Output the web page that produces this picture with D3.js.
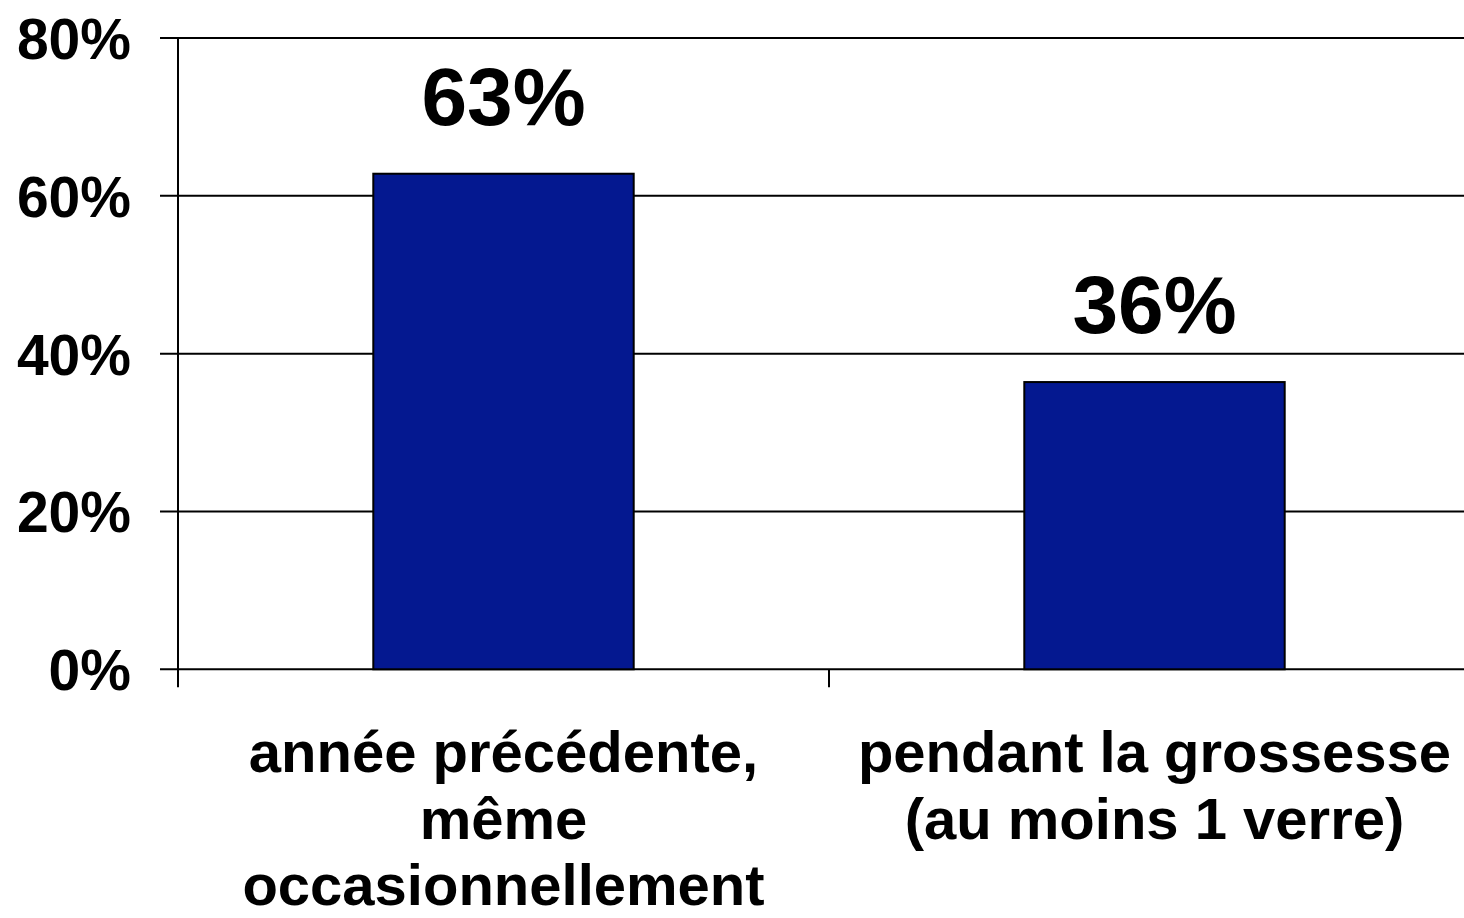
<!DOCTYPE html>
<html>
<head>
<meta charset="utf-8">
<script src="https://cdn.jsdelivr.net/npm/d3@7"></script>
<style>
    body { margin: 0; background: #fff; }
    svg text { font-family: "Liberation Sans", Arial, sans-serif; font-weight: bold; fill: #000; }
</style>
</head>
<body>
<svg id="chart"></svg>
<script>
var categories = ["annee", "grossesse"];
var categoryLines = [
    ["année précédente,", "même", "occasionnellement"],
    ["pendant la grossesse", "(au moins 1 verre)"]
];
var values = [62.8, 36.4];
var valueLabels = ["63%", "36%"];
var yTicks = [0, 20, 40, 60, 80];

var width = 1464, height = 918;
var plotLeft = 178, plotRight = 1480, plotTop = 38, plotBottom = 669.3;

var svg = d3.select("#chart")
    .attr("width", width)
    .attr("height", height);

var x = d3.scaleBand()
    .domain(categories)
    .range([plotLeft, plotRight])
    .paddingInner(0.6)
    .paddingOuter(0.3);

var y = d3.scaleLinear()
    .domain([0, 80])
    .range([plotBottom, plotTop]);

// horizontal gridlines + left tick stubs
svg.selectAll(".grid")
    .data(yTicks)
    .enter().append("line")
    .attr("class", "grid")
    .attr("x1", plotLeft - 18)
    .attr("x2", plotRight)
    .attr("y1", function(d) { return y(d); })
    .attr("y2", function(d) { return y(d); })
    .style("stroke", "#000")
    .style("stroke-width", 2);

svg.selectAll(".ylab")
    .data(yTicks)
    .enter().append("text")
    .attr("class", "ylab")
    .attr("x", 131)
    .attr("y", function(d) { return y(d) + 21; })
    .style("text-anchor", "end")
    .style("font-size", "57px")
    .text(function(d) { return d + "%"; });

// y axis line
svg.append("line")
    .attr("x1", plotLeft).attr("x2", plotLeft)
    .attr("y1", y(80)).attr("y2", plotBottom + 18)
    .style("stroke", "#000")
    .style("stroke-width", 2);

// category separators
svg.selectAll(".xtick")
    .data(categories.slice(1))
    .enter().append("line")
    .attr("class", "xtick")
    .attr("x1", function(d) { return x(d) - x.step() * x.paddingOuter(); })
    .attr("x2", function(d) { return x(d) - x.step() * x.paddingOuter(); })
    .attr("y1", plotBottom)
    .attr("y2", plotBottom + 18)
    .style("stroke", "#000")
    .style("stroke-width", 2);

svg.selectAll(".bar")
    .data(values)
    .enter().append("rect")
    .attr("class", "bar")
    .attr("x", function(d, i) { return x(categories[i]); })
    .attr("y", function(d) { return y(d); })
    .attr("width", x.bandwidth())
    .attr("height", function(d) { return plotBottom - y(d); })
    .style("fill", "#041890")
    .style("stroke", "#000")
    .style("stroke-width", 2);

svg.selectAll(".vlab")
    .data(values)
    .enter().append("text")
    .attr("class", "vlab")
    .attr("x", function(d, i) { return x(categories[i]) + x.bandwidth() / 2; })
    .attr("y", function(d) { return y(d) - 49; })
    .style("text-anchor", "middle")
    .style("font-size", "82px")
    .text(function(d, i) { return valueLabels[i]; });

// category labels, several lines each
categories.forEach(function(c, i) {
    var t = svg.append("text")
        .attr("x", x(c) + x.bandwidth() / 2)
        .attr("y", 772)
        .style("text-anchor", "middle")
        .style("font-size", "58px");
    categoryLines[i].forEach(function(line, j) {
        t.append("tspan")
            .attr("x", x(c) + x.bandwidth() / 2)
            .attr("y", 772 + j * 66.5)
            .text(line);
    });
});
</script>
</body>
</html>
